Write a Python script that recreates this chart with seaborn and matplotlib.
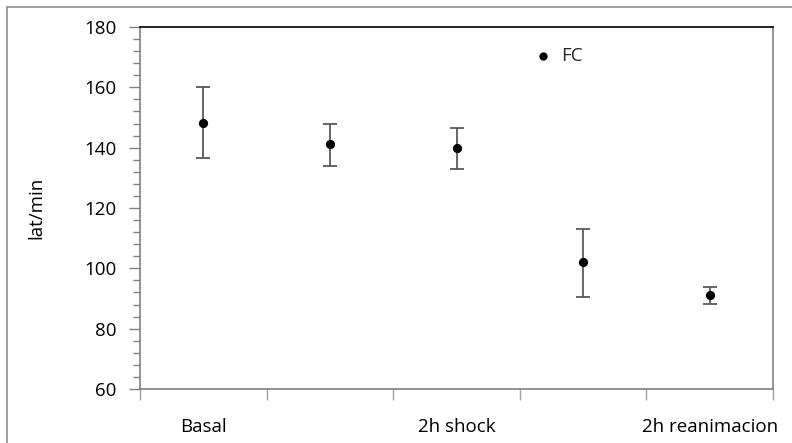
import matplotlib
matplotlib.use("Agg")
import matplotlib.pyplot as plt
from matplotlib.patches import Rectangle
from matplotlib.ticker import MultipleLocator, FixedLocator
import seaborn as sns
import pandas as pd

categories = ["Basal", "", "2h shock", "", "2h reanimacion"]
fc_values = [148.3, 141.3, 139.8, 102.0, 91.2]
err_upper = [160.0, 147.8, 146.4, 113.0, 93.7]
err_lower = [136.6, 133.9, 132.8, 90.6, 88.1]
y_label = "lat/min"
series_name = "FC"

sns.set_theme(style="white")
plt.rcParams["font.family"] = ["Open Sans", "DejaVu Sans"]

FS = 13.5
W, H = 792, 443
fig = plt.figure(figsize=(W / 100, H / 100), dpi=100)
ax = fig.add_axes([140 / W, 1 - 389 / H, (773 - 140) / W, (389 - 27) / H])

pos = list(range(len(categories)))
df = pd.DataFrame({"pos": pos, "FC": fc_values})

yerr = [[v - lo for v, lo in zip(fc_values, err_lower)],
        [hi - v for v, hi in zip(fc_values, err_upper)]]
ax.errorbar(pos, fc_values, yerr=yerr, fmt="none", ecolor="#595959",
            elinewidth=1.3, capsize=5, capthick=1.3, zorder=2)
sns.scatterplot(data=df, x="pos", y="FC", ax=ax, color="black", s=44,
                edgecolor="black", linewidth=0, label=series_name, zorder=3)

ax.set_xlim(-0.5, len(categories) - 0.5)
ax.set_ylim(60, 180)
ax.yaxis.set_major_locator(MultipleLocator(20))
ax.yaxis.set_minor_locator(MultipleLocator(4))
ax.tick_params(axis="y", which="major", direction="out", length=8, width=1,
               color="#808080", labelsize=FS, pad=9, left=True)
ax.tick_params(axis="y", which="minor", direction="out", length=5, width=1,
               color="#808080", left=True)

ax.xaxis.set_major_locator(FixedLocator([p - 0.5 for p in pos] + [len(categories) - 0.5]))
ax.xaxis.set_major_formatter(plt.NullFormatter())
ax.xaxis.set_minor_locator(FixedLocator(pos))
ax.set_xticklabels(categories, minor=True)
ax.tick_params(axis="x", which="major", direction="out", length=8, width=1,
               color="#a0a0a0", bottom=True)
ax.tick_params(axis="x", which="minor", length=0, labelsize=FS, pad=21)
for lbl in ax.get_xticklabels(minor=True):
    lbl.set_color("black")
for lbl in ax.get_yticklabels():
    lbl.set_color("black")

ax.set_xlabel("")
ax.set_ylabel(y_label, fontsize=FS, color="black", labelpad=28)

for side in ["left", "bottom", "right"]:
    ax.spines[side].set_color("#808080")
    ax.spines[side].set_linewidth(1.2)
ax.spines["top"].set_color("black")
ax.spines["top"].set_linewidth(1.2)

leg = ax.legend(loc="center left", bbox_to_anchor=(0.58, 0.92), frameon=False,
                fontsize=FS, handletextpad=0.0, markerscale=0.9)

fig.patches.append(Rectangle((7 / W, -0.1), 1.2, 1 - 7 / H + 0.1,
                             transform=fig.transFigure, fill=False,
                             edgecolor="#8c8c8c", linewidth=1.2, zorder=0))

fig.savefig("out.png", dpi=100)
